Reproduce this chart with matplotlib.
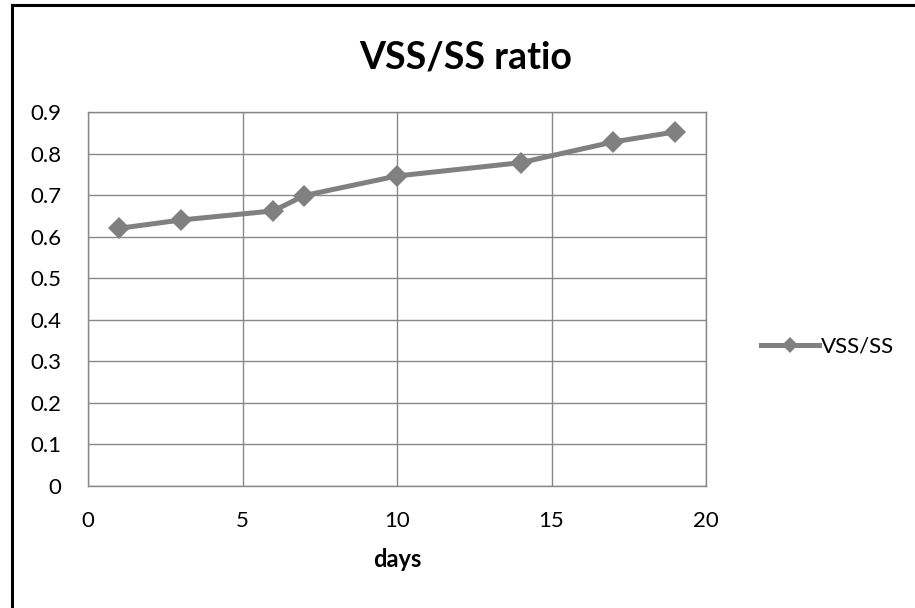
import matplotlib
matplotlib.use("Agg")
import matplotlib.pyplot as plt
from matplotlib.lines import Line2D

plt.rcParams['font.family'] = ['Lato', 'DejaVu Sans']

# data
days = [1, 3, 6, 7, 10, 14, 17, 19]
ratio = [0.62, 0.64, 0.662, 0.699, 0.746, 0.778, 0.828, 0.852]
x_ticks = [0, 5, 10, 15, 20]
y_ticks = [0, 0.1, 0.2, 0.3, 0.4, 0.5, 0.6, 0.7, 0.8, 0.9]

grey = '#808080'
grid_grey = '#888888'

fig = plt.figure(figsize=(9.15, 6.08), dpi=100)
ax = fig.add_axes([0.0962, 0.2007, 0.6754, 0.6151])

ax.plot(days, ratio, color=grey, linewidth=3.6, marker='D', markersize=11,
        markeredgewidth=0, label='VSS/SS')

ax.set_xlim(0, 20)
ax.set_ylim(0, 0.9)
ax.set_xticks(x_ticks)
ax.set_yticks(y_ticks)
ax.set_yticklabels(['0' if v == 0 else f'{v:.1f}' for v in y_ticks])
ax.grid(True, color=grid_grey, linewidth=1.0)
ax.set_axisbelow(True)
for s in ax.spines.values():
    s.set_color(grid_grey)
    s.set_linewidth(1.0)
ax.tick_params(length=0, labelsize=16)
ax.tick_params(axis='x', pad=18)
ax.tick_params(axis='y', pad=19)

ax.set_xlabel('days', fontsize=17, fontweight='bold', labelpad=12)
fig.text(0.509, 0.905, 'VSS/SS ratio', ha='center', va='center',
         fontsize=27, fontweight='bold')

handle = Line2D([], [], color=grey, linewidth=3.6, marker='D', markersize=8,
                markeredgewidth=0)
fig.legend([handle], ['VSS/SS'], loc='center left', bbox_to_anchor=(0.81, 0.43),
           frameon=False, fontsize=16, handlelength=2.6, handletextpad=0.1)

# outer chart border (top and left edges only visible)
fig.add_artist(Line2D([0.013, 1.0], [0.991, 0.991], color='black', linewidth=2.2,
                      transform=fig.transFigure))
fig.add_artist(Line2D([0.013, 0.013], [0.0, 0.991], color='black', linewidth=2.2,
                      transform=fig.transFigure))

fig.savefig('out.png', dpi=100)
